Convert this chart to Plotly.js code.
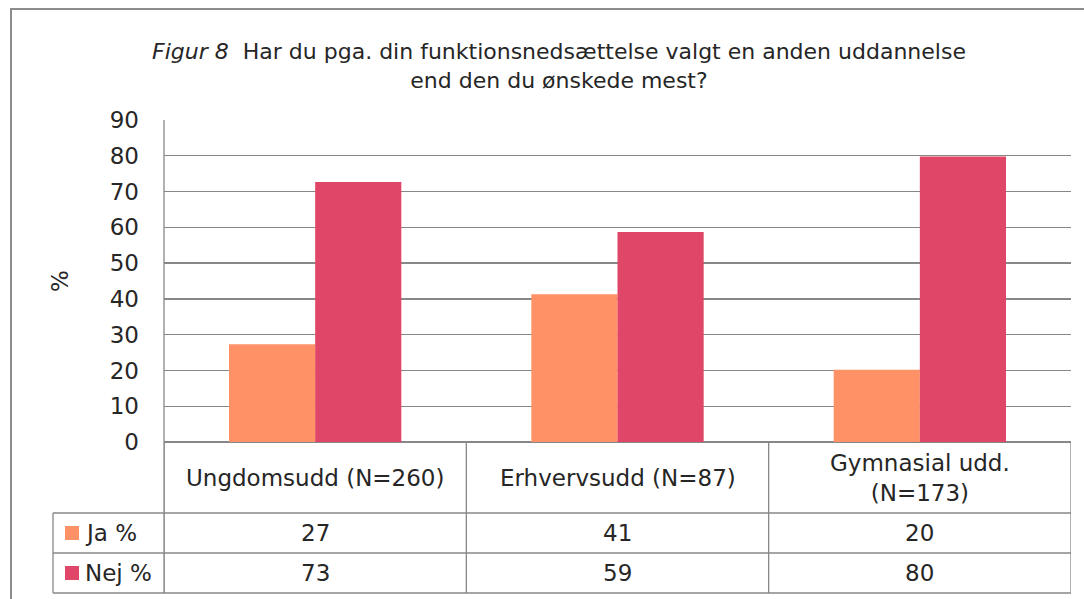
<!DOCTYPE html>
<html>
<head>
<meta charset="utf-8">
<script src="https://cdn.plot.ly/plotly-3.0.1.min.js"></script>
<style>html,body{margin:0;padding:0;background:#fff;}#chart{width:1084px;height:599px;}</style>
</head>
<body>
<div id="chart"></div>
<script>
// ---- data ----
const categories = ["Ungdomsudd (N=260)", "Erhvervsudd (N=87)", "Gymnasial udd.<br>(N=173)"];
const seriesNames = ["Ja %", "Nej %"];
const jaValues = [27.3, 41.3, 20.2];
const nejValues = [72.7, 58.7, 79.8];
const yTicks = [0, 10, 20, 30, 40, 50, 60, 70, 80, 90];
const titleText = "<i>Figur 8</i>  Har du pga. din funktionsnedsættelse valgt en anden uddannelse<br>end den du ønskede mest?";
const yTitle = "%";

// ---- styling ----
const colors = ["#fe9166", "#df4667"];
const FONT = "DejaVu Sans";
const TXT = "#262626";
const LINE = "#878787";

// pixel geometry helpers (layout only)
const L = 164, R = 1071, T = 120, B = 442;
const px = p => (p - L) / (R - L);
const py = p => (B - p) / (B - T);
const rowTops = [513, 553, 593];

const traces = [jaValues, nejValues].map((vals, i) => ({
  type: "bar",
  name: seriesNames[i],
  x: categories.map((c, k) => k),
  y: vals,
  marker: { color: colors[i], line: { width: 0 } },
  hoverinfo: "skip"
}));

const shapes = [];
const line = (x0, y0, x1, y1, w) => shapes.push({
  type: "line", xref: "paper", yref: "paper",
  x0: x0, y0: y0, x1: x1, y1: y1,
  line: { color: LINE, width: w || 1.3 }, layer: "above"
});
// outer frame
shapes.push({ type: "rect", xref: "paper", yref: "paper",
  x0: px(11), x1: px(1095), y0: py(9), y1: py(610),
  line: { color: "#8c8c8c", width: 2 }, layer: "below" });
// y axis line extended through header row
line(px(164), py(120), px(164), py(593));
// table vertical lines (category boundaries)
for (let k = 0; k <= categories.length; k++) {
  shapes.push({ type: "line", xref: "x", yref: "paper",
    x0: k - 0.5, x1: k - 0.5, y0: py(442), y1: py(593),
    line: { color: LINE, width: 1.3 }, layer: "above" });
}
// left column border
line(px(53), py(513), px(53), py(593));
// horizontal table lines
rowTops.forEach(r => line(px(53), py(r), px(1071), py(r)));

const annotations = [];
// y axis label
annotations.push({ xref: "paper", yref: "paper", x: px(60), y: py(281),
  text: yTitle, showarrow: false, textangle: -90,
  font: { family: FONT, size: 23, color: TXT }, xanchor: "center", yanchor: "middle" });
// header row: category names
categories.forEach((c, k) => annotations.push({
  xref: "x", yref: "paper", x: k, y: py(478), text: c, showarrow: false,
  font: { family: FONT, size: 23, color: TXT }, xanchor: "center", yanchor: "middle"
}));
// data rows
[jaValues, nejValues].forEach((vals, i) => {
  const cy = (rowTops[i] + rowTops[i + 1]) / 2;
  shapes.push({ type: "rect", xref: "paper", yref: "paper",
    x0: px(65), x1: px(79), y0: py(cy - 7), y1: py(cy + 7),
    fillcolor: colors[i], line: { width: 0 }, layer: "above" });
  annotations.push({ xref: "paper", yref: "paper", x: px(83), y: py(cy),
    text: seriesNames[i], showarrow: false,
    font: { family: FONT, size: 23, color: TXT }, xanchor: "left", yanchor: "middle" });
  vals.forEach((v, k) => annotations.push({
    xref: "x", yref: "paper", x: k, y: py(cy), text: String(Math.round(v)), showarrow: false,
    font: { family: FONT, size: 23, color: TXT }, xanchor: "center", yanchor: "middle"
  }));
});

const layout = {
  width: 1084, height: 599,
  margin: { l: L, r: 1084 - R, t: T, b: 599 - B },
  paper_bgcolor: "#ffffff", plot_bgcolor: "#ffffff",
  showlegend: false,
  barmode: "group", bargap: 0.43, bargroupgap: 0,
  title: { text: titleText, xref: "paper", x: px(559), xanchor: "center",
    yref: "container", y: 1 - 59 / 599, yanchor: "middle",
    font: { family: FONT, size: 22, color: TXT } },
  xaxis: { type: "linear", range: [-0.5, 2.5], showticklabels: false, showgrid: false,
    zeroline: false, showline: false, ticks: "", fixedrange: true },
  yaxis: { range: [0, 90], tickvals: yTicks, ticktext: yTicks.map(String),
    showgrid: true, gridcolor: LINE, gridwidth: 1.3,
    zeroline: true, zerolinecolor: LINE, zerolinewidth: 1.3,
    showline: false, ticks: "", ticklabelstandoff: 24,
    tickfont: { family: FONT, size: 23, color: TXT }, fixedrange: true },
  shapes: shapes,
  annotations: annotations
};

Plotly.newPlot("chart", traces, layout, { displayModeBar: false, staticPlot: true });
</script>
</body>
</html>
